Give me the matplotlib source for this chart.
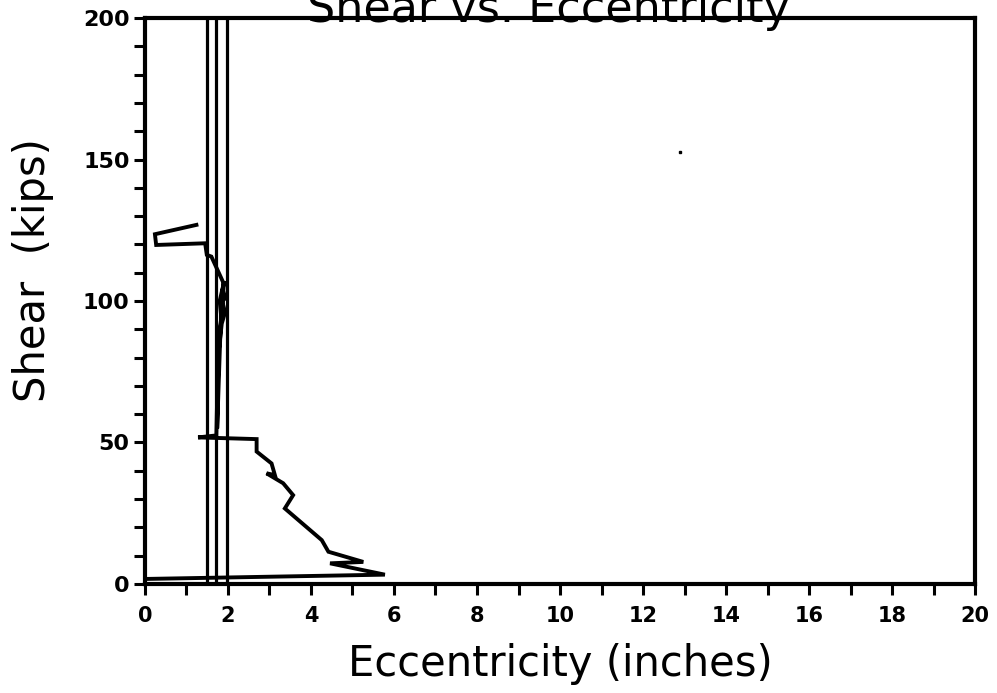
import matplotlib.pyplot as plt
from matplotlib.ticker import MultipleLocator

# main shear vs eccentricity trace
ecc = [0.08, 5.78, 4.46, 5.26, 4.42, 4.26, 3.37, 3.57, 3.33, 2.93, 3.13, 3.05,
       2.69, 2.69, 1.28, 1.72, 1.76, 1.85, 1.93, 1.86, 1.94, 1.87, 1.91, 1.80,
       1.84, 1.78, 1.74, 1.82, 1.90, 1.60, 1.49, 1.45, 0.27, 0.24, 1.24]
shear = [1.8, 3.3, 7.3, 7.8, 11.4, 15.5, 26.7, 31.4, 35.6, 39.1, 38.5, 42.6,
         46.8, 51.2, 51.8, 52.5, 80.0, 92.0, 96.0, 100.0, 101.0, 104.0, 107.0, 100.0,
         94.0, 88.0, 55.0, 90.0, 106.1, 115.7, 116.3, 120.4, 119.8, 123.6, 126.9]

# vertical traces running off the top of the plot
vert_x = [1.49, 1.72, 1.98]

# speck on the scan
speck_x = [12.9]
speck_y = [152.6]

fig = plt.figure(figsize=(9.97, 6.93), dpi=100)
ax = fig.add_axes([0.1454, 0.1573, 0.978 - 0.1454, 0.974 - 0.1573])

ax.plot(ecc, shear, color="black", lw=2.8, solid_joinstyle="miter")
ax.vlines(vert_x, 0, 200, color="black", lw=2.3)
ax.plot(speck_x, speck_y, "s", color="black", ms=2)

ax.set_xlim(0, 20)
ax.set_ylim(0, 200)
ax.xaxis.set_major_locator(MultipleLocator(2))
ax.xaxis.set_minor_locator(MultipleLocator(1))
ax.yaxis.set_major_locator(MultipleLocator(50))
ax.yaxis.set_minor_locator(MultipleLocator(10))

for s in ax.spines.values():
    s.set_linewidth(3)
ax.tick_params(which="both", direction="out", width=2.2, length=8)
ax.tick_params(axis="x", pad=8)
ax.tick_params(axis="y", pad=3)
for lab in ax.get_xticklabels():
    lab.set_fontsize(15)
    lab.set_fontweight("bold")
for lab in ax.get_yticklabels():
    lab.set_fontsize(16)
    lab.set_fontweight("bold")

ax.set_xlabel("Eccentricity (inches)", fontsize=30, labelpad=12)
fig.text(0.033, 1 - 270 / 693, "Shear  (kips)", rotation=90, fontsize=30,
         ha="center", va="center")
fig.text(0.55, 1 - 22 / 693, "Shear vs. Eccentricity", fontsize=32,
         ha="center", va="baseline")

fig.savefig("out.png", dpi=100)
